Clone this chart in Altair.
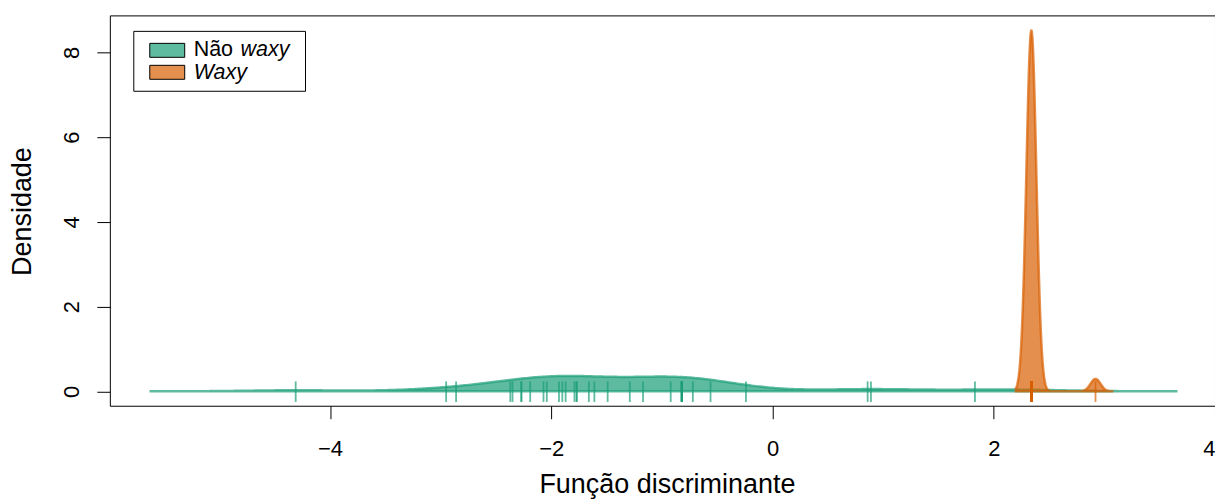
import altair as alt
import pandas as pd

nao_waxy = [-4.31, -2.95, -2.86, -2.37, -2.35, -2.27, -2.27, -2.19, -2.07, -2.04,
            -1.93, -1.90, -1.87, -1.79, -1.77, -1.77, -1.66, -1.61, -1.49, -1.29,
            -1.17, -0.92, -0.82, -0.82, -0.82, -0.82, -0.82, -0.82, -0.82, -0.82,
            -0.72, -0.56, -0.24, 0.86, 0.89, 1.83, 2.34]
waxy = [2.34, 2.34, 2.34, 2.34, 2.34, 2.34, 2.34, 2.34, 2.34, 2.34,
        2.34, 2.34, 2.34, 2.34, 2.34, 2.34, 2.34, 2.34, 2.34, 2.34,
        2.34, 2.34, 2.34, 2.34, 2.34, 2.34, 2.34, 2.34, 2.34, 2.92]

groups = ["Não waxy", "Waxy"]
colors = ["#1b9e77", "#d95f02"]
x_ticks = [-4, -2, 0, 2, 4]
y_ticks = [0, 2, 4, 6, 8]

FONT = "Liberation Sans"

df_g = pd.DataFrame({"value": nao_waxy})
df_o = pd.DataFrame({"value": waxy})

xs = alt.Scale(domain=[-5.99, 4.0], nice=False, zero=False)
ys = alt.Scale(domain=[-0.34, 8.87], nice=False, zero=False)

x_axis = alt.Axis(values=x_ticks, title="Função discriminante", titleY=87,
                  titleBaseline="alphabetic", titleX=558)
y_axis = alt.Axis(values=y_ticks, title="Densidade", labelAngle=270,
                  labelAlign="center", labelBaseline="alphabetic", labelPadding=18,
                  titleX=-79, titleY=196, titleBaseline="alphabetic", titleAngle=270)


def dens(df, bw, ext, color):
    return alt.Chart(df).transform_density(
        "value", bandwidth=bw, extent=ext, steps=500, as_=["value", "density"]
    ).mark_area(fill=color, fillOpacity=0.7, stroke=color, strokeOpacity=0.7,
                strokeWidth=2.5).encode(
        x=alt.X("value:Q", scale=xs, axis=x_axis),
        y=alt.Y("density:Q", scale=ys, axis=y_axis),
        y2=alt.datum(0),
    )


def rug(df, color):
    return alt.Chart(df).mark_rule(color=color, opacity=0.7, strokeWidth=1.8).encode(
        x=alt.X("value:Q", scale=xs, axis=x_axis),
        y=alt.datum(-0.25, scale=ys, axis=y_axis),
        y2=alt.datum(0.235),
    )


LEG_FS = 21.5
dummy = pd.DataFrame({"a": [0]})
leg_box = alt.Chart(dummy).mark_rect(fill="white", stroke="black", strokeWidth=1).encode(
    x=alt.value(24), x2=alt.value(196), y=alt.value(16), y2=alt.value(76))
sw1 = alt.Chart(dummy).mark_rect(fill=colors[0], fillOpacity=0.7, stroke="black", strokeWidth=1).encode(
    x=alt.value(40), x2=alt.value(75), y=alt.value(28), y2=alt.value(42))
sw2 = alt.Chart(dummy).mark_rect(fill=colors[1], fillOpacity=0.7, stroke="black", strokeWidth=1).encode(
    x=alt.value(40), x2=alt.value(75), y=alt.value(50), y2=alt.value(64))
t1a = alt.Chart(dummy).mark_text(text="Não", font=FONT, fontSize=LEG_FS, align="left",
                                 baseline="alphabetic", color="black").encode(
    x=alt.value(84), y=alt.value(41))
t1b = alt.Chart(dummy).mark_text(text="waxy", font=FONT, fontSize=LEG_FS, fontStyle="italic",
                                 align="left", baseline="alphabetic", color="black").encode(
    x=alt.value(131), y=alt.value(41))
t2 = alt.Chart(dummy).mark_text(text="Waxy", font=FONT, fontSize=LEG_FS, fontStyle="italic",
                                align="left", baseline="alphabetic", color="black").encode(
    x=alt.value(84), y=alt.value(64))

chart = alt.layer(
    dens(df_g, 0.436, [-5.62, 3.65], colors[0]),
    rug(df_g, colors[0]),
    dens(df_o, 0.0453, [2.20, 3.07], colors[1]),
    rug(df_o, colors[1]),
    leg_box, sw1, sw2, t1a, t1b, t2,
).properties(
    width=1107, height=391,
    autosize=alt.AutoSizeParams(type="none"),
    padding={"left": 102, "top": 7, "right": 0, "bottom": 94},
).configure(font=FONT).configure_view(
    stroke="black", strokeWidth=1
).configure_axis(
    grid=False, domain=False, tickSize=13, tickColor="black", tickWidth=1,
    labelFontSize=22, labelColor="black", labelFont=FONT,
    titleFontSize=27, titleFontWeight="normal", titleColor="black", titleFont=FONT,
).configure_axisX(labelPadding=20)

chart.save("out.html", embed_options={"renderer": "svg", "actions": False})
